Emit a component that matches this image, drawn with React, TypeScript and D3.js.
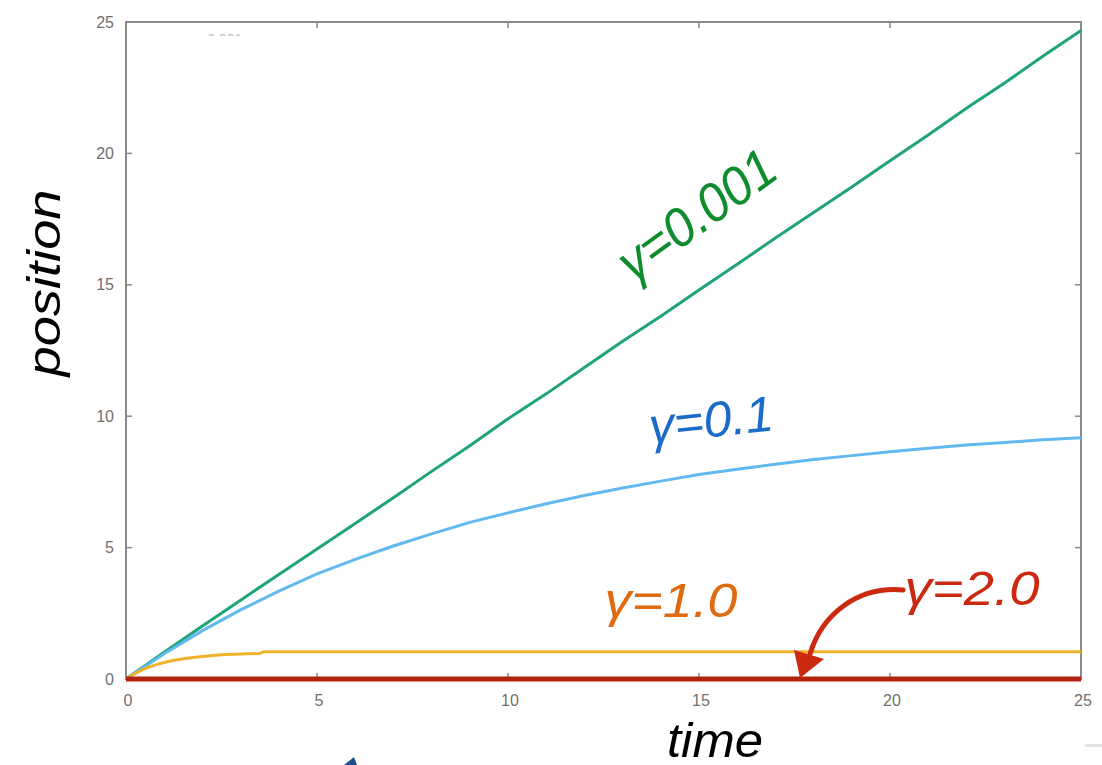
import React from 'react';
import * as d3 from 'd3';

const timeSteps = [0, 1, 2, 3, 4, 5, 6, 7, 8, 9, 10, 11, 12, 13, 14, 15, 16, 17, 18, 19, 20, 21, 22, 23, 24, 25];
const gamma0001 = [0, 1.02, 2.02, 3.0, 3.98, 4.95, 5.92, 6.9, 7.9, 8.88, 9.9, 10.85, 11.85, 12.85, 13.8, 14.8, 15.78, 16.78, 17.75, 18.72, 19.72, 20.7, 21.72, 22.68, 23.7, 24.68];
const gamma01 = [0, 0.96, 1.84, 2.63, 3.34, 4.0, 4.55, 5.06, 5.52, 5.96, 6.32, 6.67, 6.98, 7.27, 7.53, 7.78, 7.98, 8.17, 8.35, 8.5, 8.65, 8.78, 8.9, 9.0, 9.1, 9.18];
const gamma1Time = [0, 0.25, 0.5, 0.75, 1, 1.25, 1.5, 1.75, 2, 2.5, 3, 3.5, 3.6, 25];
const gamma1 = [0, 0.22, 0.4, 0.53, 0.63, 0.71, 0.77, 0.82, 0.86, 0.92, 0.95, 0.97, 1.04, 1.04];
const gamma2Time = [0, 25];
const gamma2 = [0, 0];
const xTicks = [0, 5, 10, 15, 20, 25];
const yTicks = [0, 5, 10, 15, 20, 25];

export default function App() {
  const x = d3.scaleLinear().domain([0, 25]).range([126, 1081]);
  const y = d3.scaleLinear().domain([0, 25]).range([679, 22]);
  const line = d3.line<[number, number]>().x(d => x(d[0])).y(d => y(d[1]));
  const zip = (ts: number[], vs: number[]) => ts.map((t, i) => [t, vs[i]] as [number, number]);

  const frameColor = '#8a8a8a';
  const tickLen = 6;
  const font = 'Liberation Sans, Arial, sans-serif';

  return (
    <div style={{ position: 'absolute', left: 0, top: 0 }}>
      <svg width={1102} height={765} style={{ display: 'block', background: '#fff' }}>
        <defs>
          <clipPath id="faint">
            <rect x={188} y={30} width={60} height={6} />
          </clipPath>
        </defs>
        {/* frame */}
        <rect x={x(0)} y={y(25)} width={x(25) - x(0)} height={y(0) - y(25)} fill="none" stroke={frameColor} strokeWidth={2} />
        {/* ticks */}
        {xTicks.map(t => (
          <g key={'xt' + t}>
            <line x1={x(t)} x2={x(t)} y1={y(0)} y2={y(0) - tickLen} stroke={frameColor} strokeWidth={1.5} />
            <line x1={x(t)} x2={x(t)} y1={y(25)} y2={y(25) + tickLen} stroke={frameColor} strokeWidth={1.5} />
            <text x={x(t) + 2} y={706} textAnchor="middle" fontFamily={font} fontSize={16} fill="#707070">{t}</text>
          </g>
        ))}
        {yTicks.map(v => (
          <g key={'yt' + v}>
            <line x1={x(0)} x2={x(0) + tickLen} y1={y(v)} y2={y(v)} stroke={frameColor} strokeWidth={1.5} />
            <line x1={x(25)} x2={x(25) - tickLen} y1={y(v)} y2={y(v)} stroke={frameColor} strokeWidth={1.5} />
            <text x={114} y={y(v)} dy="0.35em" textAnchor="end" fontFamily={font} fontSize={16} fill="#707070">{v}</text>
          </g>
        ))}
        {/* faint cut-off key text */}
        <g clipPath="url(#faint)">
          <text x={192} y={44} fontFamily={font} fontSize={14} fill="#bbb">γ=0.001</text>
        </g>
        {/* series */}
        <path d={line(zip(timeSteps, gamma0001)) || ''} fill="none" stroke="#1fa37a" strokeWidth={3} />
        <path d={line(zip(timeSteps, gamma01)) || ''} fill="none" stroke="#62b9ef" strokeWidth={3} />
        <path d={line(zip(gamma1Time, gamma1)) || ''} fill="none" stroke="#f0b22a" strokeWidth={3} />
        <path d={line(zip(gamma2Time, gamma2)) || ''} fill="none" stroke="#b3210f" strokeWidth={5} />

        {/* axis titles */}
        <text transform="translate(60,283) rotate(-90)" textAnchor="middle" fontFamily={font} fontStyle="italic" fontSize={46} textLength={187} lengthAdjust="spacingAndGlyphs" fill="#000">position</text>
        <text x={667} y={757} fontFamily={font} fontStyle="italic" fontSize={48} textLength={96} lengthAdjust="spacingAndGlyphs" fill="#000">time</text>

        {/* annotations */}
        <text transform="translate(696,214) rotate(-36)" dy="0.36em" textAnchor="middle" fontFamily={font} fontStyle="italic" fontSize={54} textLength={182} lengthAdjust="spacingAndGlyphs" fill="#0e8c2e">γ=0.001</text>
        <text transform="translate(711,419) rotate(-6)" dy="0.36em" textAnchor="middle" fontFamily={font} fontStyle="italic" fontSize={50} textLength={125} lengthAdjust="spacingAndGlyphs" fill="#1a6cc8">γ=0.1</text>
        <text transform="translate(671,600)" dy="0.36em" textAnchor="middle" fontFamily={font} fontStyle="italic" fontSize={48} textLength={133} lengthAdjust="spacingAndGlyphs" fill="#e06a10">γ=1.0</text>
        <text transform="translate(972,588)" dy="0.36em" textAnchor="middle" fontFamily={font} fontStyle="italic" fontSize={48} textLength={135} lengthAdjust="spacingAndGlyphs" fill="#cc2a10">γ=2.0</text>

        {/* curved arrow to gamma=2.0 line */}
        <path d="M903,590 C858,586 822,614 810,654" fill="none" stroke="#cc2a10" strokeWidth={5} strokeLinecap="round" />
        <path d="M794,650 L824,659 L800,678 Z" fill="#cc2a10" />

        {/* partial blue arrow tip at bottom */}
        <path d="M344,765 L354,757 L357,765 Z" fill="#1d4f8a" />
        {/* faint mark bottom right */}
        <rect x={1085} y={744} width={17} height={3} fill="#e2e2e2" />
      </svg>
    </div>
  );
}
